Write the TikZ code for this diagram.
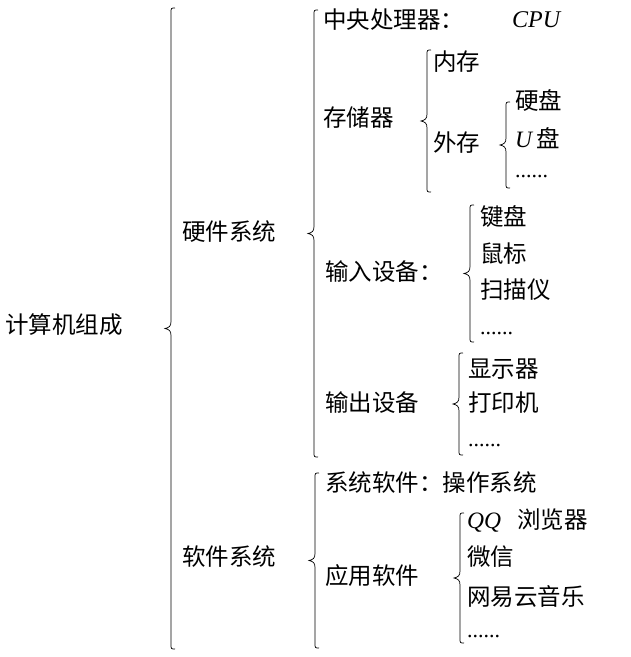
\documentclass[tikz,border=0pt]{standalone}
\usepackage{fontspec}
\setmainfont{Noto Sans CJK SC}
\newfontfamily\lat{Liberation Serif}
\usetikzlibrary{calc}
\newcommand\mybrace[2]{%
  \draw[brl] let \p1=(#1), \p2=(#2), \p3=($(#1)!0.5!(#2)$) in
    (\x1+4pt,\y1) .. controls (\x1,\y1) .. (\x1,\y1-5pt)
    -- (\x1,\y3+7pt) .. controls (\x1,\y3+2pt) and (\x1-2pt,\y3+1pt) .. (\x1-6pt,\y3)
    .. controls (\x1-2pt,\y3-1pt) and (\x1,\y3-2pt) .. (\x1,\y3-7pt)
    -- (\x1,\y2+5pt) .. controls (\x1,\y2) .. (\x1+4pt,\y2);}
\begin{document}
\begin{tikzpicture}[x=1pt,y=-1pt,
  txt/.style={anchor=west,inner sep=0pt,font=\fontsize{23.5}{27}\selectfont},
  lattxt/.style={anchor=west,inner sep=0pt,font=\lat\itshape\fontsize{24}{27}\selectfont},
  dotstxt/.style={anchor=base west,inner sep=0pt,font=\lat\fontsize{22}{26}\selectfont},
  brl/.style={line width=0.7pt}]
\useasboundingbox (0,0) rectangle (631,657);
% texts
\node[txt] (root) at (5,325) {计算机组成};
\node[txt] (hw) at (182,232) {硬件系统};
\node[txt] (sw) at (182,557) {软件系统};
\node[txt] (cpu) at (323,20) {中央处理器：};
\node[lattxt] (cpuen) at (512,20) {CPU};
\node[txt] (mem) at (323,118) {存储器};
\node[txt] (inner) at (433,62) {内存};
\node[txt] (outer) at (433,143) {外存};
\node[txt] (hdd) at (515,100) {硬盘};
\node[txt] (udisk) at (515,138) {{\lat\itshape U}\,盘};
\node[dotstxt] (d1) at (515,177) {......};
\node[txt] (in) at (325,272) {输入设备：};
\node[txt] (kb) at (480,217) {键盘};
\node[txt] (mouse) at (480,254) {鼠标};
\node[txt] (scan) at (480,290) {扫描仪};
\node[dotstxt] (d2) at (480,334) {......};
\node[txt] (out) at (325,403) {输出设备};
\node[txt] (disp) at (468,369) {显示器};
\node[txt] (prn) at (468,403) {打印机};
\node[dotstxt] (d3) at (468,446) {......};
\node[txt] (sys) at (325,483) {系统软件：操作系统};
\node[txt] (app) at (325,576) {应用软件};
\node[txt] (qq) at (467,521) {{\lat\itshape QQ}\hspace{16pt}浏览器};
\node[txt] (wx) at (467,557) {微信};
\node[txt] (wy) at (467,597) {网易云音乐};
\node[dotstxt] (d4) at (467,637) {......};
% brace end points (on the brace line)
\coordinate (b1t) at (171,8);   \coordinate (b1b) at (171,649);
\coordinate (b2t) at (314,10);  \coordinate (b2b) at (314,457);
\coordinate (b3t) at (315,473); \coordinate (b3b) at (315,648);
\coordinate (b4t) at (427,50);  \coordinate (b4b) at (427,192);
\coordinate (b5t) at (506,102); \coordinate (b5b) at (506,188);
\coordinate (b6t) at (470,205); \coordinate (b6b) at (470,342);
\coordinate (b7t) at (459,353); \coordinate (b7b) at (459,455);
\coordinate (b8t) at (460,513); \coordinate (b8b) at (460,643);
\foreach \i in {1,...,8}{\mybrace{b\i t}{b\i b}}
\end{tikzpicture}
\end{document}
